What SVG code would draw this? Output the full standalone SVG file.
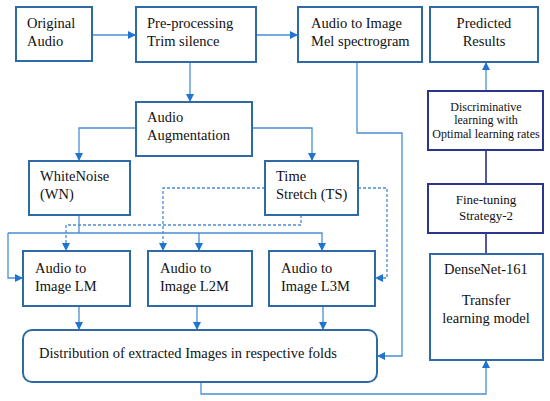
<svg xmlns="http://www.w3.org/2000/svg" width="550" height="401" viewBox="0 0 550 401">
<defs>
<style>
.box{fill:#fff;stroke:#2e6aa6;stroke-width:2}
.nbox{fill:#fff;stroke:#2b3590;stroke-width:2}
.t{font-family:"Liberation Serif",serif;font-size:14.5px;fill:#111}
.ts{font-family:"Liberation Serif",serif;font-size:12px;fill:#111}
.tm{font-family:"Liberation Serif",serif;font-size:13px;fill:#111}
.c{fill:none;stroke:#4a8ed4;stroke-width:1.3}
.d{fill:none;stroke:#4a8ed4;stroke-width:1.3;stroke-dasharray:3 2}
.n{fill:none;stroke:#5558a0;stroke-width:2}
</style>
<marker id="a" viewBox="0 0 10 10" refX="10" refY="5" markerWidth="8" markerHeight="8" markerUnits="userSpaceOnUse" orient="auto">
<path d="M0,0 L10,5 L0,10 z" fill="#1f74cf"/>
</marker>
</defs>
<rect width="550" height="401" fill="#fff"/>
<g id="connectors">
<path class="c" d="M92,35 H136" marker-end="url(#a)"/>
<path class="c" d="M256,35 H298" marker-end="url(#a)"/>
<path class="c" d="M190,62 V102" marker-end="url(#a)"/>
<path class="c" d="M136,128 H79 V161" marker-end="url(#a)"/>
<path class="c" d="M252,128 H312 V161" marker-end="url(#a)"/>
<path class="c" d="M79,215 V233"/>
<path class="c" d="M8,233 H322 V251" marker-end="url(#a)"/>
<path class="c" d="M8,233 V278 H23" marker-end="url(#a)"/>
<path class="c" d="M199,233 V251" marker-end="url(#a)"/>
<path class="d" d="M265,188 H163 V251" marker-end="url(#a)"/>
<path class="d" d="M301,215 V225 H66 V251" marker-end="url(#a)"/>
<path class="d" d="M358,188 H387 V278 H375" marker-end="url(#a)"/>
<path class="c" d="M79,306 V330" marker-end="url(#a)"/>
<path class="c" d="M197,306 V330" marker-end="url(#a)"/>
<path class="c" d="M323,306 V330" marker-end="url(#a)"/>
<path class="c" d="M357,62 V133 H402 V356 H377" marker-end="url(#a)"/>
<path class="c" d="M201,382 V394 H486 V360" marker-end="url(#a)"/>
<path class="n" d="M486,150 V184"/>
<path class="n" d="M486,233 V254"/>
<path class="c" d="M486,91 V62" marker-end="url(#a)"/>
</g>
<g id="original-audio"><rect class="box" x="16" y="7" width="76" height="54"/><text class="t" x="27" y="28">Original</text><text class="t" x="27" y="46">Audio</text></g>
<g id="pre-processing"><rect class="box" x="136" y="7" width="120" height="55"/><text class="t" x="147" y="28">Pre-processing</text><text class="t" x="147" y="46">Trim silence</text></g>
<g id="mel"><rect class="box" x="298" y="7" width="124" height="55"/><text class="t" x="311" y="28">Audio to Image</text><text class="t" x="311" y="46">Mel spectrogram</text></g>
<g id="predicted"><rect class="box" x="430" y="7" width="108" height="55"/><text class="t" x="484" y="28" text-anchor="middle">Predicted</text><text class="t" x="484" y="46" text-anchor="middle">Results</text></g>
<g id="augmentation"><rect class="box" x="136" y="102" width="116" height="54"/><text class="t" x="147" y="122">Audio</text><text class="t" x="147" y="140">Augmentation</text></g>
<g id="white-noise"><rect class="box" x="29" y="161" width="101" height="54"/><text class="t" x="40" y="181">WhiteNoise</text><text class="t" x="40" y="199">(WN)</text></g>
<g id="time-stretch"><rect class="box" x="265" y="161" width="93" height="54"/><text class="t" x="276" y="181">Time</text><text class="t" x="276" y="199">Stretch (TS)</text></g>
<g id="lm"><rect class="box" x="23" y="251" width="107" height="55"/><text class="t" x="35" y="273">Audio to</text><text class="t" x="35" y="291">Image LM</text></g>
<g id="l2m"><rect class="box" x="148" y="251" width="104" height="55"/><text class="t" x="160" y="273">Audio to</text><text class="t" x="160" y="291">Image L2M</text></g>
<g id="l3m"><rect class="box" x="269" y="251" width="106" height="55"/><text class="t" x="281" y="273">Audio to</text><text class="t" x="281" y="291">Image L3M</text></g>
<g id="distribution"><rect class="box" x="23" y="330" width="354" height="52" rx="9"/><text class="t" x="39" y="358">Distribution of extracted Images in respective folds</text></g>
<g id="discriminative"><rect class="nbox" x="428" y="91" width="115" height="59"/><text class="ts" x="486" y="111" text-anchor="middle">Discriminative</text><text class="ts" x="486" y="124" text-anchor="middle">learning with</text><text class="ts" x="486" y="138" text-anchor="middle">Optimal learning rates</text></g>
<g id="fine-tuning"><rect class="nbox" x="428" y="184" width="115" height="49"/><text class="tm" x="486" y="204" text-anchor="middle">Fine-tuning</text><text class="tm" x="486" y="220" text-anchor="middle">Strategy-2</text></g>
<g id="densenet"><rect class="box" x="430" y="254" width="113" height="106"/><text class="t" x="486" y="274" text-anchor="middle">DenseNet-161</text><text class="t" x="486" y="305" text-anchor="middle">Transfer</text><text class="t" x="486" y="323" text-anchor="middle">learning model</text></g>
</svg>
